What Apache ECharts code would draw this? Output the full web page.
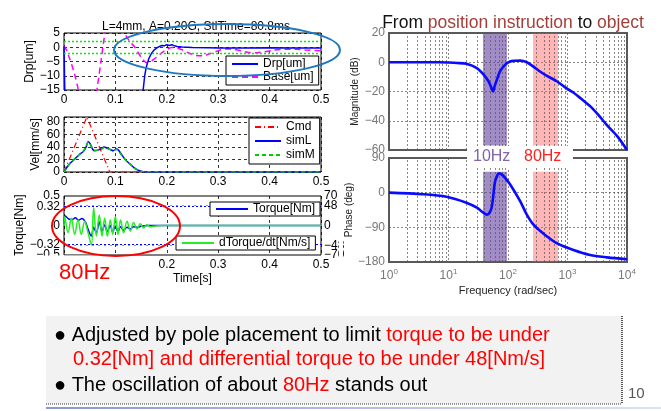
<!DOCTYPE html>
<html>
<head>
<meta charset="utf-8">
<script src="https://cdn.jsdelivr.net/npm/echarts@6/dist/echarts.min.js"></script>
<style>
  html, body { margin: 0; padding: 0; background: #fff; }
  #chart { width: 661px; height: 411px; }
</style>
</head>
<body>
<div id="chart"></div>
<script>
// ---- step response: position error (um) ----
const drpTime = [0, 0.003, 0.15, 0.154, 0.157, 0.16, 0.165, 0.17, 0.175, 0.18, 0.185, 0.19, 0.195, 0.2, 0.205, 0.21, 0.215, 0.22, 0.23, 0.25, 0.28, 0.3, 0.35, 0.4, 0.45, 0.5]
const drpVal = [0.3, -30, -30, -15, -10, -7, -4, -2.2, -1, -0.3, 0.2, 0.6, 0.5, 0.9, 0.6, 0.9, 0.5, 0.3, 0.1, -0.1, -0.2, -0.3, -0.3, -0.2, -0.3, -0.3]
const baseTime = [0, 0.005, 0.01, 0.02, 0.028, 0.04, 0.05, 0.06, 0.064, 0.072, 0.08, 0.09, 0.1, 0.11, 0.118, 0.128, 0.138, 0.15, 0.161, 0.17, 0.18, 0.19, 0.2, 0.21, 0.22, 0.23, 0.24, 0.255, 0.27, 0.285, 0.3, 0.315, 0.33, 0.345, 0.36, 0.375, 0.39, 0.41, 0.43, 0.45, 0.47, 0.5]
const baseVal = [0.5, -1, -3.5, -9, -15, -24, -26, -21, -15, -5, 5, 11, 12, 9, 5, 2, 0, -3.5, -5.4, -4.8, -3.5, -2, -0.8, -0.1, -0.3, -0.9, -1.8, -2.8, -3, -2.2, -1.2, -0.6, -0.7, -1.3, -1.8, -1.9, -1.6, -1, -0.7, -0.7, -1, -1.2]
const settleBand = [2, -2]

// ---- velocity (mm/s) ----
const cmdTime = [0, 0.0445, 0.089, 0.5]
const cmdVal = [0, 88, 0, 0]
const velTime = [0, 0.006, 0.012, 0.02, 0.03, 0.038, 0.043, 0.047, 0.051, 0.056, 0.06, 0.066, 0.072, 0.078, 0.084, 0.09, 0.096, 0.102, 0.106, 0.112, 0.12, 0.128, 0.136, 0.144, 0.152, 0.16, 0.5]
const simLVal = [0, 8, 14, 20, 28, 33, 40, 49, 45, 36, 34, 35, 37, 40, 38, 36, 34, 37, 35, 28, 19, 13, 7, 3, 1, 0, 0]
const simMVal = [0, 7, 14, 21, 28, 34, 41, 48, 44, 37, 35, 35, 36, 39, 38, 36, 35, 36, 34, 27, 19, 13, 7, 3, 1, 0.3, 0]

// ---- torque (Nm) and its derivative (Nm/s) ----
const torqueTime = [0, 0.0026, 0.0091, 0.0156, 0.022, 0.0285, 0.035, 0.0415, 0.0467, 0.0532, 0.0577, 0.0629, 0.0687, 0.0739, 0.0791, 0.0843, 0.0901, 0.0947, 0.0999, 0.105, 0.11, 0.116, 0.1226, 0.129, 0.1355, 0.142, 0.1512, 0.164, 0.5]
const torqueVal = [0.02, 0.16, 0.11, 0.1, 0.13, 0.09, 0.12, 0.06, -0.06, -0.18, -0.03, -0.12, 0.06, -0.1, 0.01, -0.1, 0, -0.11, -0.01, -0.1, -0.02, -0.08, -0.03, -0.06, -0.02, -0.03, -0.01, 0, 0]
const dTorqueTime = [0, 0.0013, 0.0078, 0.0143, 0.0208, 0.0272, 0.0337, 0.0402, 0.0467, 0.0532, 0.0577, 0.0629, 0.0687, 0.0739, 0.0791, 0.0843, 0.0901, 0.0947, 0.0999, 0.105, 0.11, 0.116, 0.1226, 0.129, 0.1355, 0.142, 0.1485, 0.155, 0.161, 0.168, 0.178, 0.19, 0.5]
const dTorqueVal = [0, 21, -17, 17, -21, 13, -21, 10, -17, -46, 42, -25, 25, -25, 17, -25, 13, -21, 21, -21, 13, -17, 10, -13, 7, -8, 4, -6, 2, -3, -1, 0, 0]
const torqueLimit = [0.32, -0.32]
const dTorqueLimit = [48, -48]
const torqueTicks = [-0.5, -0.32, 0, 0.32, 0.5]
const dTorqueTicks = [-70, -48, 0, 48, 70]

// ---- bode: position instruction -> object ----
const magFreq = [1, 3, 7, 10, 14, 20, 30, 38, 47, 52, 56, 60, 65, 73, 89, 108, 130, 160, 207, 268, 350, 460, 660, 900, 1250, 1700, 2400, 3300, 4600, 7000, 10000]
const magDb = [0, 0, 0, -0.2, -0.5, -1.1, -4, -8, -13, -17, -20, -16, -12, -6.4, -1.8, 0.5, 1, 1.1, 0, -3, -6.5, -9.5, -13, -17, -20.7, -25, -30, -36, -43, -51, -60]
const phaseFreq = [1, 3.7, 9.25, 20, 30, 38, 44, 48, 53, 56.5, 60, 66, 71, 83, 108, 160, 207, 268, 400, 660, 1260, 2400, 4600, 10000]
const phaseDeg = [0, -4, -10.5, -26, -39, -51, -57, -54, -39, -9, 26, 45, 50, 44, 22, -22, -57, -83, -107, -131, -149, -162, -168, -173]
const band10 = [38, 96]
const band80 = [263, 692]

const pairs = (xs, ys) => xs.map((x, i) => [x, ys[i]])
const minus = (v) => String(v).replace('-', '\u2212')
const FONT = 'Liberation Sans'

// only label the listed tick values (axis ticks run on a fine step)
const onlyTicks = (list) => (v) => {
  const r = Math.round(v * 100) / 100
  return list.indexOf(r) >= 0 ? minus(r) : ''
}

// minor grid lines of the log axis (2..9 of every decade)
const minorLines = []
;[1, 10, 100, 1000].forEach((d) => {
  for (let k = 2; k <= 9; k++) minorLines.push({ xAxis: d * k })
})

const gridDash = { type: [3, 3], color: '#000', width: 0.8 }
const bodeDash = { type: [2, 2], color: '#555', width: 0.7 }
const blackLabel = { color: '#000', fontSize: 12, fontFamily: FONT, margin: 4, formatter: minus }
const grayLabel = { color: '#777', fontSize: 12, fontFamily: FONT, margin: 4, formatter: minus }

const timeAxis = (gi, extra) => Object.assign({
  gridIndex: gi, type: 'value', min: 0, max: 0.5, interval: 0.1,
  axisLine: { show: false }, axisTick: { show: false },
  splitLine: { lineStyle: gridDash },
  axisLabel: blackLabel,
}, extra || {})

const legendBase = {
  orient: 'vertical', backgroundColor: '#fff', borderColor: '#000', borderWidth: 1,
  borderRadius: 0, padding: [2, 5], itemGap: 1, itemWidth: 26, itemHeight: 10, z: 20,
  selectedMode: false, itemStyle: { opacity: 0 },
  textStyle: { fontSize: 12, color: '#000', fontFamily: FONT },
}

const bandArea = (top, bottom) => ({
  silent: true,
  data: [
    [{ coord: [band10[0], top], itemStyle: { color: 'rgba(105,70,165,0.62)' } }, { coord: [band10[1], bottom] }],
    [{ coord: [band80[0], top], itemStyle: { color: 'rgba(255,80,80,0.42)' } }, { coord: [band80[1], bottom] }],
  ],
})

const chart = echarts.init(document.getElementById('chart'))
chart.setOption({
  animation: false,
  backgroundColor: '#fff',
  textStyle: { fontFamily: FONT },
  title: [
    { text: 'L=4mm, A=0.20G, StlTime=80.8ms', left: 191, top: 16, textAlign: 'center',
      textStyle: { fontSize: 12, fontWeight: 'normal', color: '#000', fontFamily: FONT } },
    { text: '{b|From }{r|position instruction}{b| to }{r|object}', left: 508, top: 9, textAlign: 'center',
      textStyle: { fontFamily: FONT, fontWeight: 'normal', rich: {
        b: { fontSize: 17.5, color: '#111', fontFamily: FONT, fontWeight: 'normal' },
        r: { fontSize: 17.5, color: '#a23f3a', fontFamily: FONT, fontWeight: 'normal' },
      } } },
  ],
  grid: [
    { left: 64, top: 33, width: 257, height: 57, show: true, borderColor: '#000', borderWidth: 1 },
    { left: 64, top: 117, width: 257, height: 55, show: true, borderColor: '#000', borderWidth: 1 },
    { left: 64, top: 196, width: 257, height: 59, show: true, borderColor: '#000', borderWidth: 1 },
    { left: 389, top: 33, width: 238, height: 117, show: true, borderColor: '#5a5a5a', borderWidth: 2 },
    { left: 389, top: 158, width: 238, height: 104, show: true, borderColor: '#5a5a5a', borderWidth: 2 },
  ],
  xAxis: [
    timeAxis(0),
    timeAxis(1),
    timeAxis(2, { name: 'Time[s]', nameLocation: 'middle', nameGap: 18,
      nameTextStyle: { fontSize: 12, color: '#000', fontFamily: FONT } }),
    { gridIndex: 3, type: 'log', logBase: 10, min: 1, max: 10000,
      axisLine: { show: false }, axisTick: { show: false }, axisLabel: { show: false },
      splitLine: { lineStyle: bodeDash } },
    { gridIndex: 4, type: 'log', logBase: 10, min: 1, max: 10000,
      axisLine: { show: false }, axisTick: { show: false },
      splitLine: { lineStyle: bodeDash },
      axisLabel: { color: '#777', fontSize: 12, fontFamily: FONT, margin: 6,
        formatter: (v) => '10{s|' + Math.round(Math.log10(v)) + '}',
        rich: { s: { fontSize: 8, color: '#777', verticalAlign: 'top', padding: [0, 0, 8, 0] } } },
      name: 'Frequency (rad/sec)', nameLocation: 'middle', nameGap: 23,
      nameTextStyle: { fontSize: 11, color: '#222', fontFamily: FONT } },
  ],
  yAxis: [
    { gridIndex: 0, type: 'value', min: -15, max: 5, interval: 5,
      axisLine: { show: false }, axisTick: { show: false },
      splitLine: { lineStyle: gridDash }, axisLabel: blackLabel,
      name: 'Drp[um]', nameLocation: 'middle', nameGap: 25,
      nameTextStyle: { fontSize: 12, color: '#000', fontFamily: FONT } },
    { gridIndex: 1, type: 'value', min: 0, max: 88, interval: 20,
      axisLine: { show: false }, axisTick: { show: false },
      splitLine: { lineStyle: gridDash }, axisLabel: Object.assign({}, blackLabel, { showMaxLabel: false }),
      name: 'Vel[mm/s]', nameLocation: 'middle', nameGap: 22,
      nameTextStyle: { fontSize: 12, color: '#000', fontFamily: FONT } },
    { gridIndex: 2, type: 'value', min: -0.5, max: 0.5, interval: 0.01,
      axisLine: { show: false }, axisTick: { show: false }, splitLine: { show: false },
      axisLabel: Object.assign({}, blackLabel, { formatter: onlyTicks(torqueTicks), interval: 0,
        showMinLabel: true, showMaxLabel: true, hideOverlap: false }),
      name: 'Torque[Nm]', nameLocation: 'middle', nameGap: 38,
      nameTextStyle: { fontSize: 12, color: '#000', fontFamily: FONT } },
    { gridIndex: 2, type: 'value', min: -70, max: 70, interval: 1, position: 'right',
      axisLine: { show: false }, axisTick: { show: false }, splitLine: { show: false },
      axisLabel: Object.assign({}, blackLabel, { formatter: onlyTicks(dTorqueTicks), interval: 0, margin: 3,
        showMinLabel: true, showMaxLabel: true, hideOverlap: false }) },
    { gridIndex: 3, type: 'value', min: -60, max: 20, interval: 20,
      axisLine: { show: false }, axisTick: { show: false },
      splitLine: { lineStyle: bodeDash }, axisLabel: grayLabel,
      name: 'Magnitude (dB)', nameLocation: 'middle', nameGap: 29,
      nameTextStyle: { fontSize: 10, color: '#222', fontFamily: FONT } },
    { gridIndex: 4, type: 'value', min: -180, max: 90, interval: 90,
      axisLine: { show: false }, axisTick: { show: false },
      splitLine: { lineStyle: bodeDash }, axisLabel: grayLabel,
      name: 'Phase (deg)', nameLocation: 'middle', nameGap: 31,
      nameTextStyle: { fontSize: 10, color: '#222', fontFamily: FONT } },
  ],
  legend: [
    Object.assign({}, legendBase, { data: ['Drp[um]', 'Base[um]'], left: 226, top: 56 }),
    Object.assign({}, legendBase, { data: ['Cmd', 'simL', 'simM'], left: 249, top: 118, padding: [3, 5], itemGap: 2 }),
    Object.assign({}, legendBase, { data: [{ name: 'Torque[Nm]', lineStyle: { type: 'solid', width: 2 } }],
      left: 210, top: 202, itemWidth: 32, padding: [1, 5] }),
    Object.assign({}, legendBase, { data: [{ name: 'dTorque/dt[Nm/s]', lineStyle: { type: 'solid', width: 2 } }],
      left: 176, top: 236, itemWidth: 32, padding: [1, 5] }),
  ],
  series: [
    { name: 'Base[um]', type: 'line', xAxisIndex: 0, yAxisIndex: 0, symbol: 'none', smooth: 0.3,
      data: pairs(baseTime, baseVal), lineStyle: { color: '#ff00ff', width: 1.5, type: [6, 4] }, itemStyle: { color: '#ff00ff' } },
    { name: 'Drp[um]', type: 'line', xAxisIndex: 0, yAxisIndex: 0, symbol: 'none',
      data: pairs(drpTime, drpVal), lineStyle: { color: '#0000ff', width: 1.5 }, itemStyle: { color: '#0000ff' },
      markLine: { silent: true, symbol: ['none', 'none'], label: { show: false },
        lineStyle: { color: '#00ee00', width: 1.3, type: [2, 2] },
        data: settleBand.map((v) => ({ yAxis: v })) } },
    { name: 'Cmd', type: 'line', xAxisIndex: 1, yAxisIndex: 1, symbol: 'none',
      data: pairs(cmdTime, cmdVal), lineStyle: { color: '#ff0000', width: 1.2, type: [6, 3, 1, 3] }, itemStyle: { color: '#ff0000' } },
    { name: 'simL', type: 'line', xAxisIndex: 1, yAxisIndex: 1, symbol: 'none', smooth: 0.3,
      data: pairs(velTime, simLVal), lineStyle: { color: '#0000ff', width: 1.5 }, itemStyle: { color: '#0000ff' } },
    { name: 'simM', type: 'line', xAxisIndex: 1, yAxisIndex: 1, symbol: 'none', smooth: 0.3,
      data: pairs(velTime, simMVal), lineStyle: { color: '#00cc00', width: 1.5, type: [4, 3] }, itemStyle: { color: '#00cc00' } },
    { name: 'Torque[Nm]', type: 'line', xAxisIndex: 2, yAxisIndex: 2, symbol: 'none', smooth: 0.4,
      data: pairs(torqueTime, torqueVal), lineStyle: { color: '#0000ff', width: 1.5 }, itemStyle: { color: '#0000ff' },
      markLine: { silent: true, symbol: ['none', 'none'], label: { show: false },
        lineStyle: { color: '#0000ff', width: 1.2, type: [2, 2] },
        data: torqueLimit.map((v) => ({ yAxis: v })) } },
    { name: 'dTorque/dt[Nm/s]', type: 'line', xAxisIndex: 2, yAxisIndex: 3, symbol: 'none', smooth: 0.4,
      data: pairs(dTorqueTime, dTorqueVal), lineStyle: { color: '#22ee22', width: 1.5 }, itemStyle: { color: '#22ee22' },
      markLine: { silent: true, symbol: ['none', 'none'], label: { show: false },
        lineStyle: { color: '#22ee22', width: 1.2, type: [2, 4], dashOffset: 2 },
        data: dTorqueLimit.map((v) => ({ yAxis: v })) } },
    // minor log grid + frequency bands, under the curves
    { type: 'line', xAxisIndex: 3, yAxisIndex: 4, data: [], z: 1, silent: true,
      markLine: { silent: true, symbol: ['none', 'none'], label: { show: false }, lineStyle: bodeDash, data: minorLines },
      markArea: bandArea(20, -57) },
    { type: 'line', xAxisIndex: 4, yAxisIndex: 5, data: [], z: 1, silent: true,
      markLine: { silent: true, symbol: ['none', 'none'], label: { show: false }, lineStyle: bodeDash, data: minorLines },
      markArea: bandArea(54, -180) },
    { name: 'mag', type: 'line', xAxisIndex: 3, yAxisIndex: 4, symbol: 'none', smooth: 0.3, z: 5,
      data: pairs(magFreq, magDb), lineStyle: { color: '#0a0aff', width: 2.6 } },
    { name: 'phase', type: 'line', xAxisIndex: 4, yAxisIndex: 5, symbol: 'none', smooth: 0.3, z: 5,
      data: pairs(phaseFreq, phaseDeg), lineStyle: { color: '#0a0aff', width: 2.6 } },
  ],
  graphic: [
    { type: 'rect', z: 100, shape: { x: 0, y: 255.5, width: 130, height: 36 }, style: { fill: '#fff' } },
    { type: 'rect', z: 100, shape: { x: 339, y: 186, width: 4, height: 74 }, style: { fill: '#fff' } },
    { type: 'rect', z: 100, shape: { x: 467, y: 146, width: 106, height: 22 }, style: { fill: '#fff' } },
    { type: 'text', z: 102, x: 59, y: 273, style: { text: '80Hz', fill: '#ff0000', font: '22px "Liberation Sans"', verticalAlign: 'middle' } },
    { type: 'text', z: 102, x: 473, y: 157, style: { text: '10Hz', fill: '#8064a8', font: '16px "Liberation Sans"', verticalAlign: 'middle' } },
    { type: 'text', z: 102, x: 524, y: 157, style: { text: '80Hz', fill: '#ff2020', font: '16px "Liberation Sans"', verticalAlign: 'middle' } },
    { type: 'ellipse', z: 101, shape: { cx: 227, cy: 50, rx: 113, ry: 26 }, style: { fill: 'none', stroke: '#1f78c0', lineWidth: 2 } },
    { type: 'ellipse', z: 101, shape: { cx: 116, cy: 226, rx: 64, ry: 30 }, style: { fill: 'none', stroke: '#ff0000', lineWidth: 2 } },
    // note box at the bottom
    { type: 'rect', z: 100, shape: { x: 46, y: 316, width: 576, height: 88 }, style: { fill: '#f2f2f2' } },
    { type: 'line', z: 101, shape: { x1: 622, y1: 316, x2: 622, y2: 404 }, style: { stroke: '#555', lineWidth: 2, lineDash: [1, 1] } },
    { type: 'line', z: 101, shape: { x1: 46, y1: 404, x2: 622, y2: 404 }, style: { stroke: '#777', lineWidth: 1.5, lineDash: [1, 1] } },
    { type: 'rect', z: 100, shape: { x: 46, y: 407, width: 615, height: 2 },
      style: { fill: new echarts.graphic.LinearGradient(0, 0, 1, 0, [
        { offset: 0, color: '#8899cc' }, { offset: 1, color: '#dde3f5' }]) } },
    { type: 'text', z: 102, x: 54, y: 335, style: {
      text: '\u25CF Adjusted by pole placement to limit {r|torque to be under}',
      font: '20px "Liberation Sans"', fill: '#000', verticalAlign: 'middle', rich: { r: { fill: '#ff0000' } } } },
    { type: 'text', z: 102, x: 73, y: 359, style: {
      text: '0.32[Nm] and differential torque to be under 48[Nm/s]',
      font: '20px "Liberation Sans"', fill: '#ff0000', verticalAlign: 'middle' } },
    { type: 'text', z: 102, x: 54, y: 385, style: {
      text: '\u25CF The oscillation of about {r|80Hz} stands out',
      font: '20px "Liberation Sans"', fill: '#000', verticalAlign: 'middle', rich: { r: { fill: '#ff0000' } } } },
    { type: 'text', z: 102, x: 628, y: 394, style: { text: '10', fill: '#555', font: '15px "Liberation Sans"', verticalAlign: 'middle' } },
  ],
})
</script>
</body>
</html>
